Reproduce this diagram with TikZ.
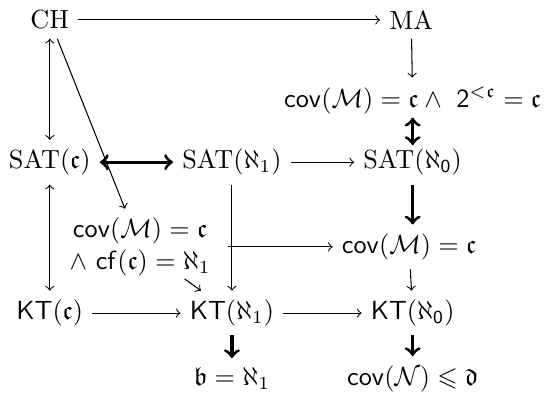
\documentclass[tikz,border=0pt]{standalone}
\usepackage{amsmath,amssymb}
\begin{document}
\begin{tikzpicture}[x=0.953cm, y=0.953cm, >=to,
	imp/.style={->},
	eqv/.style={<->},
	strong/.style={->, line width=1.2pt},
	strongeqv/.style={<->, line width=1.2pt}]
	
	\useasboundingbox (0,0) rectangle (7.66,5.78);
	
	% 1. Các nút
	\node (ch) at (0.70,5.50) {CH};
	\node (ma) at (5.78,5.50) {MA};
	\node (covc) at (5.80,4.37) {$\mathsf{cov}(\mathcal{M})=\mathfrak{c}\wedge\ \mathsf{2}^{<\mathfrak{c}}=\mathfrak{c}$};
	\node (satc) at (0.70,3.50) {SAT$(\mathfrak{c})$};
	\node (sata) at (3.26,3.50) {SAT$(\aleph_1)$};
	\node (satz) at (5.80,3.50) {SAT$(\aleph_{\mathsf{0}})$};
	\node[align=center] (cond) at (1.97,2.31) {$\mathsf{cov}(\mathcal{M})=\mathfrak{c}$\\$\wedge\ \mathsf{cf}(\mathfrak{c})=\aleph_1$};
	\node (covm) at (5.75,2.31) {$\mathsf{cov}(\mathcal{M})=\mathfrak{c}$};
	\node (ktc) at (0.70,1.38) {$\mathsf{KT}(\mathfrak{c})$};
	\node (kta) at (3.26,1.38) {$\mathsf{KT}(\aleph_1)$};
	\node (ktz) at (5.80,1.38) {$\mathsf{KT}(\aleph_{\mathsf{0}})$};
	\node (bnd) at (3.26,0.46) {$\mathfrak{b}=\aleph_1$};
	\node (covn) at (5.80,0.46) {$\mathsf{cov}(\mathcal{N})\leqslant\mathfrak{d}$};
	
	% 2. Mũi tên mảnh
	\draw[imp] (ch) -- (ma);
	\draw[imp] (ma) -- (covc);
	\draw[eqv] (ch) -- (satc);
	\draw[imp] (ch) -- (cond);
	\draw[imp] (sata) -- (satz);
	\draw[eqv] (satc) -- (ktc);
	\draw[imp] (sata) -- (kta);
	\draw[imp] ([xshift=3pt]cond.east) -- (covm);
	\draw[imp, shorten <=-4pt] (cond) -- (kta);
	\draw[imp] (covm) -- (ktz);
	\draw[imp] (ktc) -- (kta);
	\draw[imp] (kta) -- (ktz);
	
	% 3. Mũi tên đậm
	\draw[strongeqv] (satc) -- (sata);
	\draw[strongeqv, shorten <=-2pt, shorten >=-2pt] (covc) -- (satz);
	\draw[strong] (satz) -- (covm.north -| satz);
	\draw[strong] (kta) -- (bnd);
	\draw[strong] (ktz) -- (covn);
	
\end{tikzpicture}
\end{document}
